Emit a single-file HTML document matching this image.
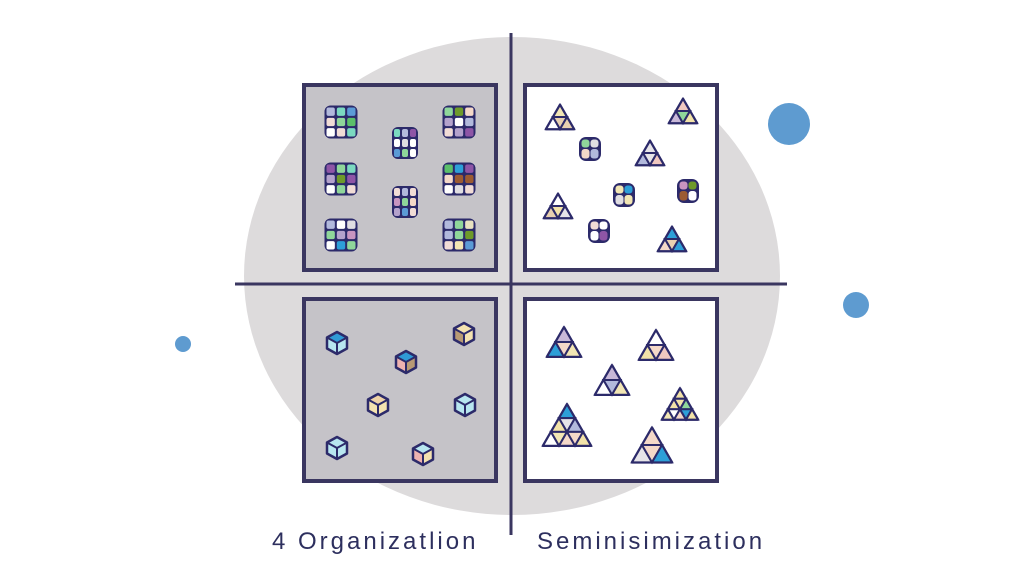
<!DOCTYPE html>
<html><head><meta charset="utf-8"><style>
html,body{margin:0;padding:0;background:#fff;width:1024px;height:576px;overflow:hidden}
svg{display:block}
text{font-family:"Liberation Sans",sans-serif;fill:#2d2f5e;font-size:24px;letter-spacing:3px}
</style></head><body>
<svg id="s" width="1024" height="576" viewBox="0 0 1024 576" xmlns="http://www.w3.org/2000/svg">
<ellipse cx="512" cy="276" rx="268" ry="239" fill="#dddbdc"/>
<rect x="304" y="85" width="192" height="185" fill="#c5c3c8" stroke="#3a3660" stroke-width="4"/>
<rect x="525" y="85" width="192" height="185" fill="#fff" stroke="#3a3660" stroke-width="4"/>
<rect x="304" y="299" width="192" height="182" fill="#c5c3c8" stroke="#3a3660" stroke-width="4"/>
<rect x="525" y="299" width="192" height="182" fill="#fff" stroke="#3a3660" stroke-width="4"/>
<line x1="511" y1="33" x2="511" y2="535" stroke="#3a3660" stroke-width="3"/>
<line x1="235" y1="284" x2="787" y2="284" stroke="#3a3660" stroke-width="3"/>
<circle cx="789" cy="124" r="21" fill="#5e9bd0"/>
<circle cx="856" cy="305" r="13" fill="#5e9bd0"/>
<circle cx="183" cy="344" r="8" fill="#5e9bd0"/>
<text x="272" y="549">4 Organizatlion</text>
<text x="537" y="549">Seminisimization</text>
<g id="g"></g>
</svg>
<script>
var g=document.getElementById('g'),h='';
var P=['#e0dee2','#ffffff','#5b9bd6','#8e55a6','#f1dcd6','#6e9a2a','#2d9fd8','#9c5b32','#8fd69a','#b2b9dc','#5bbf6a','#7bd9c0','#c895c0','#b4a2cc','#f2e6b4','#f4d8c8','#e8e2c0','#f1dcd6','#e0dee2','#ffffff'];
var T=['#f2e2a8','#f4d8c8','#b2b9dc','#ffffff','#e6e4e8','#2d9fd8','#8fd69a','#c8b8d8','#f0c8c0','#f2e6b4','#ffffff','#e8d0b0'];
var seed=7;function r(){seed=(seed*9301+49297)%233280;return seed/233280;}
function c(){return P[Math.floor(r()*P.length)];}
function t(){return T[Math.floor(r()*T.length)];}
function grid(cx,cy,w,hh){var x=cx-w/2,y=cy-hh/2,cw=(w-2)/3,ch=(hh-2)/3;
h+='<rect x="'+x+'" y="'+y+'" width="'+w+'" height="'+hh+'" rx="6" fill="#2c2a6a"/>';
for(var i=0;i<3;i++)for(var j=0;j<3;j++)h+='<rect x="'+(x+2+j*cw)+'" y="'+(y+2+i*ch)+'" width="'+(cw-2)+'" height="'+(ch-2)+'" rx="2" fill="'+c()+'"/>';}
[[341,122,33,33],[459,122,33,33],[405,143,26,32],[341,179,33,33],[459,179,33,33],[405,202,26,32],[341,235,33,33],[459,235,33,33]].forEach(a=>grid(...a));
function tri(cx,cy,w,lv){var hh=w*0.866,top=cy-hh/2,l=cx-w/2,s='';
s+='<polygon points="'+cx+','+top+' '+(l+w)+','+(top+hh)+' '+l+','+(top+hh)+'" fill="'+t()+'" stroke="#2c2a6a" stroke-width="2.5" stroke-linejoin="round"/>';
var n=lv;for(var rr=0;rr<n;rr++){var y1=top+hh*rr/n,y2=top+hh*(rr+1)/n;
for(var i=0;i<=rr;i++){var xa=cx-w/2*rr/n+i*w/n;var x2l=cx-w/2*(rr+1)/n+i*w/n;
s+='<polygon points="'+xa+','+y1+' '+(x2l+w/n)+','+y2+' '+x2l+','+y2+'" fill="'+t()+'" stroke="#2c2a6a" stroke-width="2"/>';
if(i<rr){s+='<polygon points="'+xa+','+y1+' '+(xa+w/n)+','+y1+' '+(x2l+w/n)+','+y2+'" fill="'+t()+'" stroke="#2c2a6a" stroke-width="2"/>';}}}
h+=s;}
[[560,117,28,2],[683,111,28,2],[650,153,28,2],[558,206,28,2],[672,239,28,2],
[564,342,34,2],[656,345,34,2],[612,380,34,2],[680,404,36,3],[567,425,48,3],[652,445,40,2]].forEach(a=>tri(...a));
function cyl(cx,cy){var x=cx-11,y=cy-12;
h+='<rect x="'+x+'" y="'+y+'" width="22" height="24" rx="7" fill="#2c2a6a"/>';
h+='<rect x="'+(x+2.5)+'" y="'+(y+2.5)+'" width="8" height="8" rx="3" fill="'+c()+'"/><rect x="'+(x+11.5)+'" y="'+(y+2.5)+'" width="8" height="8" rx="3" fill="'+c()+'"/>';
h+='<rect x="'+(x+2.5)+'" y="'+(y+12)+'" width="8" height="9.5" rx="3" fill="'+c()+'"/><rect x="'+(x+11.5)+'" y="'+(y+12)+'" width="8" height="9.5" rx="3" fill="'+c()+'"/>';}
[[590,149],[624,195],[688,191],[599,231]].forEach(a=>cyl(...a));
function cube(cx,cy,tp,l,rt){var w=10,s=5.5;
var pts=[[cx,cy-11],[cx+w,cy-s],[cx+w,cy+s],[cx,cy+11],[cx-w,cy+s],[cx-w,cy-s]];
h+='<polygon points="'+[[cx,cy-11],[cx+w,cy-s],[cx,cy],[cx-w,cy-s]].join(' ')+'" fill="'+tp+'"/>';
h+='<polygon points="'+[[cx-w,cy-s],[cx,cy],[cx,cy+11],[cx-w,cy+s]].join(' ')+'" fill="'+l+'"/>';
h+='<polygon points="'+[[cx+w,cy-s],[cx,cy],[cx,cy+11],[cx+w,cy+s]].join(' ')+'" fill="'+rt+'"/>';
h+='<polygon points="'+pts.join(' ')+'" fill="none" stroke="#2c2a6a" stroke-width="2.5" stroke-linejoin="round"/>';
h+='<polyline points="'+[[cx-w,cy-s],[cx,cy],[cx+w,cy-s]].join(' ')+'" fill="none" stroke="#2c2a6a" stroke-width="2"/><line x1="'+cx+'" y1="'+cy+'" x2="'+cx+'" y2="'+(cy+11)+'" stroke="#2c2a6a" stroke-width="2"/>';}
cube(337,343,'#2f9ad6','#b8e6f0','#b8e6f0');
cube(464,334,'#f4e2b0','#b89a74','#f4e2b0');
cube(406,362,'#2f9ad6','#eeb2b0','#b89a74');
cube(378,405,'#efd3a8','#f4e2b0','#f4e2b0');
cube(465,405,'#b8e6f0','#b8e6f0','#b8e6f0');
cube(337,448,'#b8e6f0','#b8e6f0','#b8e6f0');
cube(423,454,'#b8e6f0','#eeb2b0','#f4e2b0');
g.innerHTML=h;
</script>
</body></html>
